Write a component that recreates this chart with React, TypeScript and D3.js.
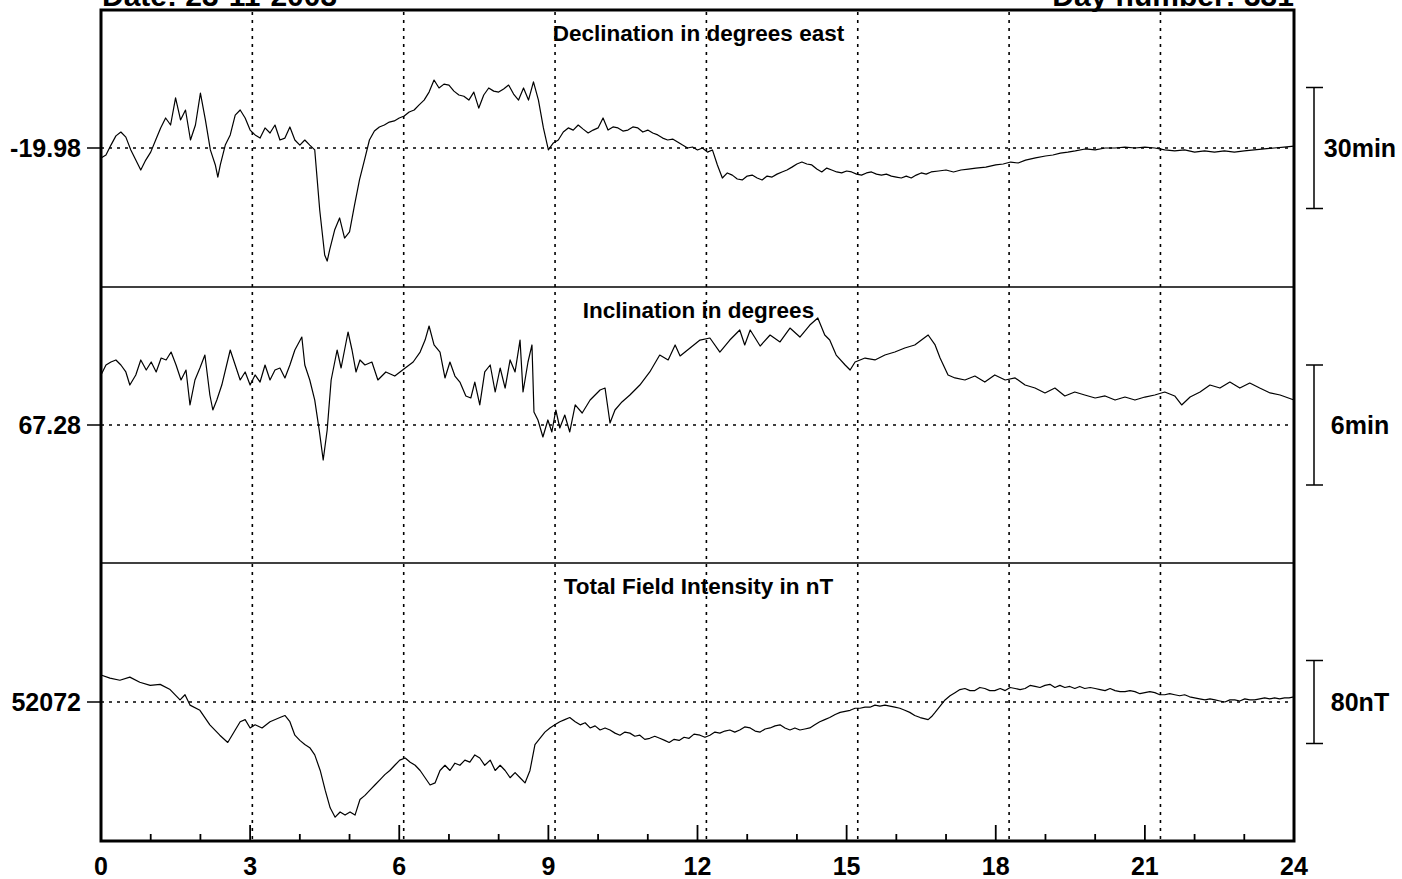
import {line, range, scaleLinear} from "d3";

// header
const DATE_LABEL = "Date: 23-11-2003";
const DAY_LABEL = "Day number: 331";

const HOUR_TICKS = [0, 3, 6, 9, 12, 15, 18, 21, 24];
const GRID_HOURS = [3, 6, 9, 12, 15, 18, 21];

const TITLES = ["Declination in degrees east", "Inclination in degrees", "Total Field Intensity in nT"];
const BASELINES = [-19.98, 67.28, 52072];
const BASELINE_LABELS = ["-19.98", "67.28", "52072"];
const SCALE_BARS = [0.5, 0.1, 80]; // 30 min of arc, 6 min of arc, 80 nT
const SCALE_BAR_LABELS = ["30min", "6min", "80nT"];

// [hour UT, degrees]
const DECLINATION: [number, number][] = [
  [0, -20.021], [0.1, -20.009], [0.2, -19.968], [0.3, -19.93], [0.4, -19.914], [0.5, -19.935],
  [0.6, -19.988], [0.7, -20.03], [0.8, -20.071], [0.9, -20.03], [1.0, -19.997], [1.1, -19.947],
  [1.2, -19.897], [1.3, -19.856], [1.4, -19.885], [1.5, -19.773], [1.6, -19.864], [1.7, -19.823],
  [1.8, -19.947], [1.9, -19.885], [2.0, -19.753], [2.1, -19.864], [2.2, -19.988], [2.3, -20.05],
  [2.35, -20.1], [2.4, -20.05], [2.5, -19.968], [2.6, -19.926], [2.7, -19.844], [2.8, -19.823],
  [2.9, -19.856], [3.0, -19.906], [3.1, -19.926], [3.2, -19.939], [3.3, -19.897], [3.4, -19.918],
  [3.5, -19.885], [3.6, -19.947], [3.7, -19.939], [3.8, -19.893], [3.9, -19.947], [4.0, -19.968],
  [4.1, -19.947], [4.2, -19.968], [4.3, -19.988], [4.4, -20.236], [4.5, -20.422], [4.55, -20.447],
  [4.6, -20.401], [4.7, -20.319], [4.8, -20.269], [4.9, -20.352], [5.0, -20.327], [5.1, -20.216],
  [5.2, -20.112], [5.3, -20.03], [5.4, -19.947], [5.5, -19.91], [5.6, -19.893], [5.7, -19.885],
  [5.8, -19.873], [5.9, -19.868], [6.0, -19.856], [6.1, -19.848], [6.2, -19.831], [6.3, -19.823],
  [6.4, -19.802], [6.5, -19.782], [6.6, -19.749], [6.7, -19.699], [6.8, -19.732], [6.9, -19.716],
  [7.0, -19.72], [7.1, -19.745], [7.2, -19.761], [7.3, -19.766], [7.4, -19.782], [7.5, -19.749],
  [7.6, -19.815], [7.7, -19.761], [7.8, -19.732], [7.9, -19.745], [8.0, -19.749], [8.1, -19.736],
  [8.2, -19.72], [8.3, -19.757], [8.4, -19.782], [8.5, -19.732], [8.6, -19.782], [8.7, -19.707],
  [8.8, -19.782], [8.9, -19.897], [9.0, -19.988], [9.1, -19.959], [9.2, -19.947], [9.3, -19.914],
  [9.4, -19.897], [9.5, -19.906], [9.6, -19.885], [9.7, -19.902], [9.8, -19.918], [9.9, -19.906],
  [10.0, -19.897], [10.1, -19.856], [10.2, -19.906], [10.3, -19.893], [10.4, -19.897], [10.5, -19.91],
  [10.6, -19.906], [10.7, -19.893], [10.8, -19.897], [10.9, -19.914], [11.0, -19.906], [11.1, -19.918],
  [11.2, -19.926], [11.3, -19.939], [11.4, -19.947], [11.5, -19.943], [11.6, -19.955], [11.7, -19.968],
  [11.8, -19.98], [11.9, -19.976], [12.0, -19.988], [12.1, -19.98], [12.2, -19.997], [12.3, -19.988],
  [12.4, -20.05], [12.5, -20.104], [12.6, -20.083], [12.7, -20.092], [12.8, -20.108], [12.9, -20.112],
  [13.0, -20.096], [13.1, -20.092], [13.2, -20.104], [13.3, -20.112], [13.4, -20.096], [13.5, -20.1],
  [13.6, -20.088], [13.7, -20.079], [13.8, -20.071], [13.9, -20.059], [14.0, -20.046], [14.1, -20.038],
  [14.2, -20.046], [14.3, -20.05], [14.4, -20.067], [14.5, -20.079], [14.6, -20.063], [14.7, -20.071],
  [14.8, -20.079], [14.9, -20.083], [15.0, -20.075], [15.1, -20.079], [15.2, -20.088], [15.3, -20.092],
  [15.4, -20.083], [15.5, -20.079], [15.6, -20.088], [15.7, -20.092], [15.8, -20.088], [15.9, -20.096],
  [16.0, -20.1], [16.1, -20.104], [16.2, -20.096], [16.3, -20.104], [16.4, -20.092], [16.5, -20.083],
  [16.6, -20.088], [16.7, -20.079], [16.85, -20.075], [17.0, -20.071], [17.15, -20.079], [17.3, -20.071],
  [17.45, -20.067], [17.6, -20.063], [17.8, -20.059], [18.0, -20.05], [18.15, -20.046], [18.3, -20.038],
  [18.45, -20.042], [18.6, -20.03], [18.8, -20.021], [19.0, -20.013], [19.15, -20.009], [19.3, -20.001],
  [19.45, -19.997], [19.6, -19.992], [19.8, -19.984], [20.0, -19.988], [20.2, -19.98], [20.4, -19.98],
  [20.6, -19.976], [20.8, -19.98], [21.0, -19.976], [21.2, -19.98], [21.4, -19.988], [21.6, -19.992],
  [21.8, -19.988], [22.0, -19.997], [22.2, -19.992], [22.4, -19.997], [22.6, -19.992], [22.8, -19.997],
  [23.0, -19.992], [23.2, -19.988], [23.4, -19.984], [23.6, -19.98], [23.8, -19.976], [24.0, -19.972]
];

// [hour UT, degrees]
const INCLINATION: [number, number][] = [
  [0, 67.3217], [0.1, 67.33], [0.2, 67.3325], [0.3, 67.3342], [0.4, 67.33], [0.5, 67.3242],
  [0.58, 67.3133], [0.7, 67.3217], [0.8, 67.3342], [0.91, 67.3258], [1.01, 67.3325], [1.11, 67.3242],
  [1.21, 67.3358], [1.31, 67.3342], [1.41, 67.3408], [1.51, 67.33], [1.61, 67.3175], [1.71, 67.3258],
  [1.79, 67.2967], [1.89, 67.3175], [1.99, 67.3275], [2.09, 67.3383], [2.19, 67.305], [2.25, 67.2925],
  [2.33, 67.3008], [2.43, 67.3133], [2.6, 67.3425], [2.7, 67.33], [2.8, 67.3175], [2.9, 67.3242],
  [3.0, 67.3133], [3.1, 67.3217], [3.2, 67.3158], [3.3, 67.33], [3.4, 67.3175], [3.5, 67.3258],
  [3.6, 67.3275], [3.7, 67.3192], [3.8, 67.33], [3.9, 67.3425], [4.04, 67.3533], [4.1, 67.33],
  [4.2, 67.3175], [4.3, 67.3008], [4.39, 67.2758], [4.47, 67.2508], [4.55, 67.2758], [4.63, 67.3175],
  [4.75, 67.3425], [4.83, 67.3275], [4.97, 67.3575], [5.05, 67.3425], [5.13, 67.3242], [5.21, 67.3342],
  [5.31, 67.33], [5.45, 67.3325], [5.57, 67.3175], [5.73, 67.3242], [5.91, 67.3208], [6.12, 67.3275],
  [6.28, 67.3325], [6.42, 67.3408], [6.52, 67.3508], [6.6, 67.3625], [6.7, 67.3467], [6.82, 67.3408],
  [6.92, 67.3192], [7.02, 67.3325], [7.12, 67.3208], [7.22, 67.3158], [7.34, 67.3042], [7.44, 67.3025],
  [7.52, 67.3158], [7.62, 67.2967], [7.72, 67.3242], [7.83, 67.33], [7.93, 67.3075], [8.03, 67.3275],
  [8.13, 67.3108], [8.23, 67.3342], [8.33, 67.3242], [8.43, 67.3508], [8.49, 67.3075], [8.59, 67.3325],
  [8.67, 67.3467], [8.71, 67.2908], [8.79, 67.2842], [8.89, 67.27], [8.99, 67.2842], [9.07, 67.2742],
  [9.15, 67.2925], [9.23, 67.2775], [9.33, 67.2883], [9.43, 67.2742], [9.54, 67.2967], [9.68, 67.29],
  [9.84, 67.3008], [10.04, 67.3092], [10.14, 67.3108], [10.24, 67.2817], [10.34, 67.2925], [10.48, 67.2992],
  [10.64, 67.305], [10.84, 67.3133], [11.04, 67.3242], [11.24, 67.3383], [11.41, 67.3342], [11.55, 67.3467],
  [11.65, 67.3375], [11.85, 67.3442], [12.05, 67.3508], [12.25, 67.3525], [12.45, 67.3408], [12.65, 67.3508],
  [12.85, 67.3592], [12.95, 67.3467], [13.06, 67.3592], [13.26, 67.3458], [13.46, 67.355], [13.66, 67.3492],
  [13.86, 67.3608], [14.06, 67.3533], [14.26, 67.3633], [14.42, 67.3692], [14.56, 67.355], [14.66, 67.3508],
  [14.79, 67.3383], [14.97, 67.33], [15.07, 67.3258], [15.17, 67.3325], [15.37, 67.3358], [15.57, 67.3342],
  [15.77, 67.3383], [15.97, 67.3408], [16.17, 67.3442], [16.37, 67.3467], [16.64, 67.355], [16.78, 67.3467],
  [16.88, 67.3358], [17.04, 67.3217], [17.18, 67.3192], [17.38, 67.3175], [17.58, 67.3208], [17.78, 67.3158],
  [17.98, 67.3217], [18.19, 67.3175], [18.39, 67.3192], [18.59, 67.3133], [18.79, 67.3108], [18.99, 67.3067],
  [19.19, 67.3108], [19.39, 67.3042], [19.59, 67.3075], [19.79, 67.305], [20.0, 67.3025], [20.2, 67.3042],
  [20.4, 67.3008], [20.6, 67.3033], [20.8, 67.3008], [21.0, 67.3033], [21.2, 67.305], [21.4, 67.3075],
  [21.6, 67.3042], [21.74, 67.2967], [21.91, 67.3033], [22.11, 67.3075], [22.31, 67.3133], [22.51, 67.3108],
  [22.71, 67.3158], [22.91, 67.3108], [23.11, 67.315], [23.31, 67.3108], [23.52, 67.3067], [23.72, 67.305],
  [24.0, 67.3008]
];

// [hour UT, nT]
const TOTAL_FIELD: [number, number][] = [
  [0, 52098], [0.18, 52095], [0.38, 52093], [0.58, 52096], [0.78, 52091], [0.99, 52088], [1.19, 52089],
  [1.39, 52084], [1.59, 52074], [1.69, 52079], [1.79, 52069], [1.99, 52064], [2.19, 52050], [2.39, 52040],
  [2.55, 52033], [2.7, 52045], [2.8, 52053], [2.9, 52055], [3.0, 52047], [3.1, 52050], [3.24, 52047],
  [3.4, 52053], [3.6, 52057], [3.7, 52059], [3.8, 52053], [3.9, 52040], [4.0, 52035], [4.1, 52031],
  [4.2, 52028], [4.3, 52021], [4.41, 52006], [4.51, 51987], [4.61, 51970], [4.71, 51961], [4.81, 51966],
  [4.91, 51963], [5.01, 51966], [5.11, 51963], [5.21, 51978], [5.31, 51982], [5.41, 51987], [5.51, 51992],
  [5.61, 51997], [5.71, 52002], [5.81, 52006], [5.91, 52011], [6.01, 52016], [6.12, 52018], [6.22, 52014],
  [6.32, 52011], [6.42, 52006], [6.52, 51999], [6.62, 51992], [6.72, 51994], [6.82, 52006], [6.92, 52011],
  [7.02, 52006], [7.12, 52013], [7.22, 52011], [7.32, 52016], [7.42, 52014], [7.52, 52021], [7.62, 52018],
  [7.72, 52011], [7.83, 52016], [7.93, 52006], [8.03, 52011], [8.13, 52006], [8.23, 51999], [8.33, 52004],
  [8.43, 51999], [8.53, 51994], [8.63, 52006], [8.73, 52031], [8.83, 52037], [8.93, 52043], [9.03, 52047],
  [9.13, 52050], [9.23, 52053], [9.33, 52055], [9.43, 52057], [9.54, 52053], [9.64, 52050], [9.74, 52052],
  [9.84, 52047], [9.94, 52049], [10.04, 52045], [10.14, 52047], [10.24, 52045], [10.34, 52042], [10.44, 52040],
  [10.54, 52043], [10.64, 52042], [10.74, 52039], [10.84, 52040], [10.94, 52036], [11.04, 52037], [11.14, 52039],
  [11.24, 52037], [11.34, 52035], [11.43, 52033], [11.53, 52036], [11.63, 52035], [11.73, 52038], [11.83, 52037],
  [11.93, 52041], [12.05, 52040], [12.15, 52038], [12.25, 52040], [12.35, 52043], [12.45, 52042], [12.55, 52044],
  [12.65, 52045], [12.75, 52043], [12.85, 52045], [12.95, 52048], [13.06, 52047], [13.16, 52044], [13.26, 52043],
  [13.36, 52046], [13.46, 52047], [13.56, 52049], [13.66, 52050], [13.76, 52047], [13.86, 52045], [13.96, 52047],
  [14.06, 52045], [14.16, 52046], [14.26, 52047], [14.36, 52050], [14.46, 52053], [14.56, 52055], [14.66, 52057],
  [14.77, 52060], [14.87, 52062], [14.97, 52063], [15.07, 52064], [15.17, 52066], [15.27, 52066], [15.37, 52067],
  [15.47, 52067], [15.57, 52069], [15.67, 52068], [15.77, 52069], [15.87, 52068], [15.97, 52067], [16.07, 52066],
  [16.17, 52064], [16.27, 52062], [16.37, 52059], [16.48, 52057], [16.56, 52056], [16.64, 52055], [16.71, 52058],
  [16.78, 52062], [16.88, 52068], [16.98, 52074], [17.08, 52078], [17.18, 52081], [17.28, 52084], [17.38, 52085],
  [17.48, 52083], [17.58, 52083], [17.68, 52086], [17.78, 52085], [17.88, 52083], [17.98, 52083], [18.09, 52085],
  [18.19, 52083], [18.29, 52086], [18.39, 52085], [18.49, 52084], [18.59, 52085], [18.69, 52088], [18.79, 52087],
  [18.89, 52086], [18.99, 52088], [19.09, 52089], [19.19, 52086], [19.29, 52088], [19.39, 52086], [19.49, 52087],
  [19.59, 52085], [19.69, 52087], [19.79, 52085], [19.9, 52086], [20.0, 52085], [20.1, 52084], [20.2, 52083],
  [20.3, 52085], [20.4, 52083], [20.5, 52082], [20.6, 52082], [20.7, 52083], [20.8, 52082], [20.9, 52080],
  [21.0, 52081], [21.1, 52082], [21.2, 52081], [21.3, 52079], [21.4, 52079], [21.5, 52080], [21.6, 52079],
  [21.7, 52078], [21.8, 52079], [21.9, 52077], [22.0, 52076], [22.1, 52075], [22.21, 52074], [22.31, 52075],
  [22.41, 52074], [22.51, 52073], [22.61, 52072], [22.71, 52074], [22.81, 52074], [22.91, 52073], [23.01, 52075],
  [23.11, 52074], [23.21, 52074], [23.31, 52075], [23.41, 52076], [23.51, 52075], [23.61, 52076], [23.71, 52075],
  [23.81, 52076], [23.9, 52076], [24.0, 52077]
];

const SERIES = [DECLINATION, INCLINATION, TOTAL_FIELD];

// layout, in pixels
const W = 1402;
const H = 879;
const LEFT = 101;
const RIGHT = 1294;
const TOP = 10;
const BOTTOM = 841;
const PANEL_EDGES = [10, 287, 563, 841];
const BASELINE_Y = [148, 425, 702];
const BAR_PX = [121, 120, 83];
const FONT = "'Liberation Sans', Arial, Helvetica, sans-serif";

export default function App() {
  const x = scaleLinear().domain([0, 24]).range([LEFT, RIGHT]);
  // the dotted hour grid in the original runs slightly wider than the axis
  const gridX = scaleLinear().domain([0, 24]).range([LEFT, LEFT + 24 * 50.45]);

  const panels = SERIES.map((data, i) => {
    const top = PANEL_EDGES[i];
    const bottom = PANEL_EDGES[i + 1];
    const baseY = BASELINE_Y[i];
    const k = BAR_PX[i] / SCALE_BARS[i];
    const y = scaleLinear()
      .domain([BASELINES[i] - (bottom - baseY) / k, BASELINES[i] + (baseY - top) / k])
      .range([bottom, top]);
    const path = line<[number, number]>()
      .x((d) => x(d[0]))
      .y((d) => y(d[1]))(data) ?? "";
    return {top, bottom, y, path, i};
  });

  return (
    <svg
      width={W}
      height={H}
      viewBox={`0 0 ${W} ${H}`}
      style={{position: "absolute", left: 0, top: 0, background: "#fff", display: "block"}}
      fontFamily={FONT}
      fontWeight="bold"
    >
      <rect x={0} y={0} width={W} height={H} fill="#fff" />

      {/* header sits partly above the page edge, as in the original print */}
      <text x={LEFT + 1} y={6} fontSize={30}>{DATE_LABEL}</text>
      <text x={RIGHT} y={6} fontSize={30} textAnchor="end">{DAY_LABEL}</text>

      {GRID_HOURS.map((h) => (
        <line
          key={`g-${h}`}
          x1={gridX(h)}
          x2={gridX(h)}
          y1={TOP + 2}
          y2={BOTTOM - 2}
          stroke="#000"
          strokeWidth={1.6}
          strokeDasharray="3,5"
        />
      ))}

      {panels.map(({top, y, path, i}) => {
        const by = y(BASELINES[i]);
        const half = SCALE_BARS[i] / 2;
        const b1 = y(BASELINES[i] + half);
        const b2 = y(BASELINES[i] - half);
        return (
          <g key={`p-${i}`}>
            {i > 0 && <line x1={LEFT} x2={RIGHT} y1={top} y2={top} stroke="#000" strokeWidth={1.5} />}
            <line x1={LEFT} x2={RIGHT} y1={by} y2={by} stroke="#000" strokeWidth={1.6} strokeDasharray="3,5" />
            <line x1={LEFT - 14} x2={LEFT} y1={by} y2={by} stroke="#000" strokeWidth={1.5} />
            <text x={LEFT - 20} y={by + 9} fontSize={25} textAnchor="end">{BASELINE_LABELS[i]}</text>
            <text x={(LEFT + RIGHT) / 2 + 1} y={top + 31} fontSize={22.5} textAnchor="middle">{TITLES[i]}</text>
            <path d={path} fill="none" stroke="#000" strokeWidth={1.2} strokeLinejoin="round" />
            <line x1={1314} x2={1314} y1={b1} y2={b2} stroke="#000" strokeWidth={1.5} />
            <line x1={1306} x2={1323} y1={b1} y2={b1} stroke="#000" strokeWidth={1.5} />
            <line x1={1306} x2={1323} y1={b2} y2={b2} stroke="#000" strokeWidth={1.5} />
            <text x={1360} y={by + 9} fontSize={25} textAnchor="middle">{SCALE_BAR_LABELS[i]}</text>
          </g>
        );
      })}

      {range(1, 24).map((h) => (
        <line
          key={`t-${h}`}
          x1={x(h)}
          x2={x(h)}
          y1={BOTTOM}
          y2={BOTTOM - (h % 3 === 0 ? 16 : 7)}
          stroke="#000"
          strokeWidth={1.8}
        />
      ))}
      {HOUR_TICKS.map((h) => (
        <text key={`l-${h}`} x={x(h)} y={875} fontSize={25} textAnchor="middle">{h}</text>
      ))}

      <rect x={LEFT} y={TOP} width={RIGHT - LEFT} height={BOTTOM - TOP} fill="none" stroke="#000" strokeWidth={3} />
    </svg>
  );
}
